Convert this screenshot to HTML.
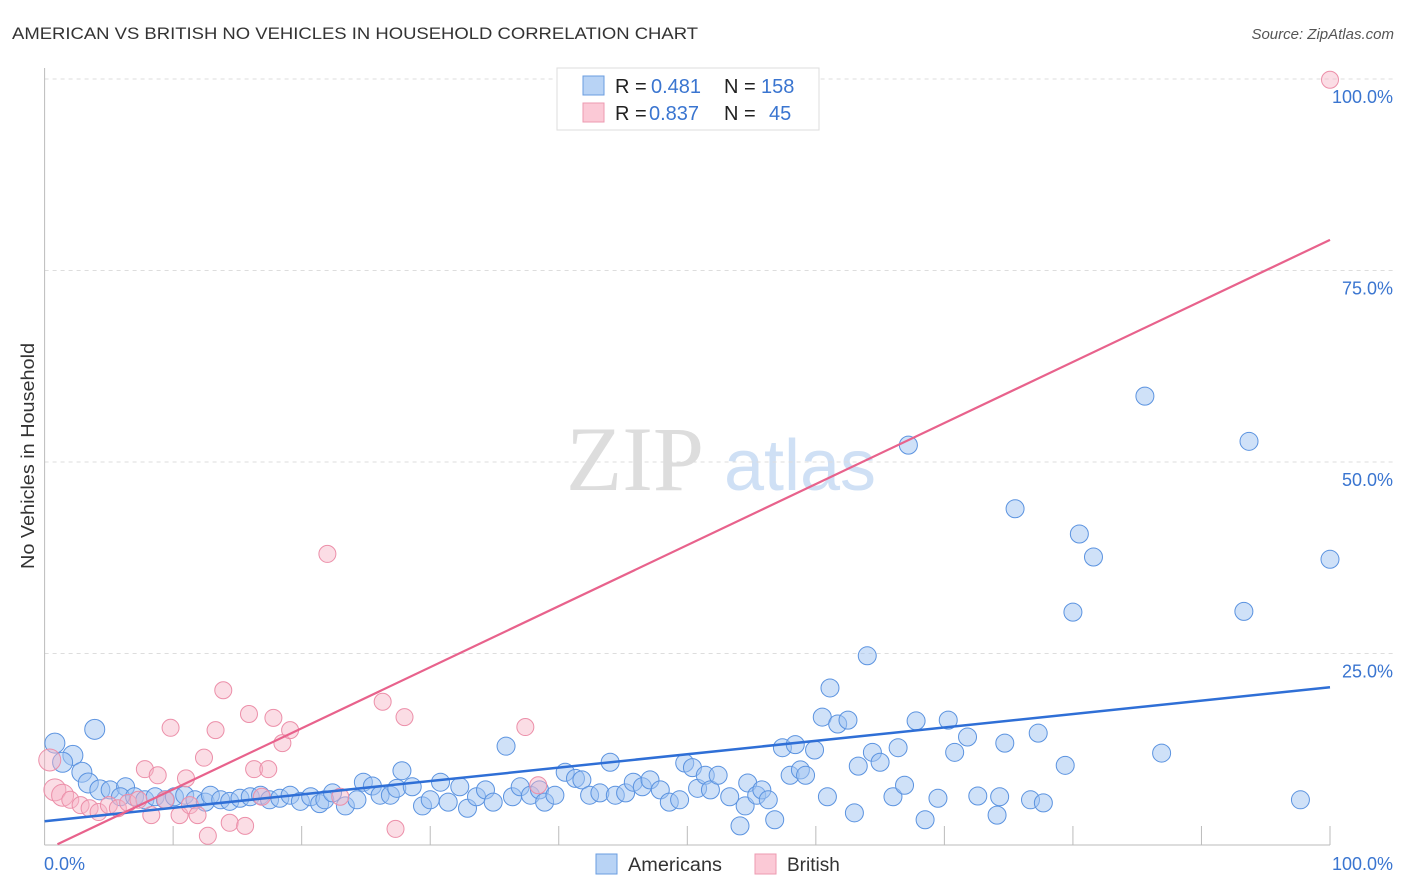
<!DOCTYPE html>
<html><head><meta charset="utf-8"><style>
body{margin:0;background:#fff;font-family:"Liberation Sans",sans-serif;}
svg{display:block}
</style></head><body>
<svg id="chart" width="1406" height="892">
<text x="12" y="39" font-size="17" fill="#333" textLength="686" lengthAdjust="spacingAndGlyphs">AMERICAN VS BRITISH NO VEHICLES IN HOUSEHOLD CORRELATION CHART</text>
<text x="1394" y="39" font-size="15" fill="#555" font-style="italic" text-anchor="end">Source: ZipAtlas.com</text>
<text x="0" y="0" transform="translate(34,456) rotate(-90)" font-size="18" fill="#333" text-anchor="middle" textLength="226" lengthAdjust="spacingAndGlyphs">No Vehicles in Household</text>
<g><text x="635" y="490" font-family="Liberation Serif,serif" font-size="92" fill="#ddd" text-anchor="middle">ZIP</text><text x="800" y="490" font-size="72" fill="#cfe0f5" text-anchor="middle">atlas</text></g>
<g id="grid"></g><g id="axes"></g><g id="pts"></g><g id="lines"></g>
<g>
<rect x="557" y="68" width="262" height="62" fill="#fff" stroke="#ddd"/>
<rect x="583" y="76" width="21" height="19" fill="#b8d3f5" stroke="#6a9de0"/>
<rect x="583" y="103" width="21" height="19" fill="#fbc9d6" stroke="#ec9ab0"/>
<text x="615" y="93" font-size="20" fill="#222">R = </text><text x="651" y="93" font-size="20" fill="#3a75d0">0.481</text>
<text x="724" y="93" font-size="20" fill="#222">N = </text><text x="761" y="93" font-size="20" fill="#3a75d0">158</text>
<text x="615" y="120" font-size="20" fill="#222">R = </text><text x="649" y="120" font-size="20" fill="#3a75d0">0.837</text>
<text x="724" y="120" font-size="20" fill="#222">N = </text><text x="769" y="120" font-size="20" fill="#3a75d0">45</text>
</g>
<g>
<rect x="596" y="854" width="21" height="20" fill="#b8d3f5" stroke="#6a9de0"/>
<text x="628" y="871" font-size="19" fill="#333" textLength="94" lengthAdjust="spacingAndGlyphs">Americans</text>
<rect x="755" y="854" width="21" height="20" fill="#fbc9d6" stroke="#ec9ab0"/>
<text x="787" y="871" font-size="19" fill="#333">British</text>
</g>
</svg>
<script>
const yTicks=[25,50,75,100];
const yTickLabels=["25.0%","50.0%","75.0%","100.0%"];
const xTicks=[10,20,30,40,50,60,70,80,90,100];
const blueX=[0.8,2.2,3.9,1.4,2.9,3.4,4.3,5.1,6.3,5.9,7.0,7.8,8.6,9.4,10.1,10.9,11.7,12.5,12.9,13.7,14.4,15.2,16.0,16.8,17.5,18.3,19.1,19.9,20.7,21.4,21.8,22.4,23.4,24.3,24.8,25.5,26.1,26.9,27.4,27.8,28.6,29.4,30.0,30.8,31.4,32.3,32.9,33.6,34.3,34.9,35.9,36.4,37.0,37.8,38.5,38.9,39.7,40.5,41.3,41.8,42.4,43.2,44.0,44.4,45.2,45.8,46.5,47.1,47.9,48.6,49.4,49.8,50.4,50.8,51.4,51.8,52.4,53.3,54.1,54.5,54.7,55.4,55.8,56.3,56.8,57.4,58.0,58.4,58.8,59.2,59.9,60.5,60.9,61.1,61.7,62.5,63.0,63.3,64.0,64.4,65.0,66.0,66.4,66.9,67.2,67.8,68.5,69.5,70.3,70.8,71.8,72.6,74.7,74.1,74.3,75.5,76.7,77.3,77.7,79.4,80.0,80.5,81.6,85.6,86.9,93.3,93.7,97.7,100];
const blueY=[13.3,11.7,15.1,10.8,9.5,8.1,7.2,7.2,7.6,6.3,6.3,5.9,6.3,5.9,6.3,6.5,5.9,5.6,6.5,5.9,5.7,6.1,6.3,6.5,5.9,6.1,6.5,5.7,6.3,5.4,5.9,6.8,5.1,5.9,8.2,7.7,6.5,6.5,7.4,9.7,7.6,5.1,5.9,8.2,5.6,7.6,4.8,6.3,7.2,5.6,12.9,6.3,7.6,6.5,7.2,5.6,6.5,9.5,8.7,8.5,6.5,6.8,10.8,6.5,6.8,8.2,7.6,8.5,7.2,5.6,5.9,10.7,10.1,7.4,9.1,7.2,9.1,6.3,2.5,5.1,8.1,6.5,7.2,5.9,3.3,12.7,9.1,13.1,9.8,9.1,12.4,16.7,6.3,20.5,15.8,16.3,4.2,10.3,24.7,12.1,10.8,6.3,12.7,7.8,52.2,16.2,3.3,6.1,16.3,12.1,14.1,6.4,13.3,3.9,6.3,43.9,5.9,14.6,5.5,10.4,30.4,40.6,37.6,58.6,12.0,30.5,52.7,5.9,37.3];
const pinkX=[0.4,0.8,1.4,2.0,2.8,3.5,4.2,5.0,5.7,6.5,7.3,7.8,8.3,8.8,9.4,9.8,10.5,11.0,11.3,11.9,12.4,12.7,13.3,13.9,14.4,15.6,15.9,16.3,16.9,17.4,17.8,18.5,19.1,22.0,23.0,26.3,27.3,28.0,37.4,38.4,100];
const pinkY=[11.1,7.2,6.5,5.9,5.2,4.8,4.3,5.2,4.8,5.5,5.9,9.9,3.9,9.1,5.9,15.3,3.9,8.7,5.2,3.9,11.4,1.2,15.0,20.2,2.9,2.5,17.1,9.9,6.3,9.9,16.6,13.3,15.0,38.0,6.3,18.7,2.1,16.7,15.4,7.8,99.9];
const blueFit=[3.1,20.6];
const pinkFit=[-0.7,79.0];
const X0=44.6,X1=1330,Y0=845,Y1=79;
const sx=v=>X0+(X1-X0)*v/100, sy=v=>Y0-(Y0-Y1)*v/100;
const NS="http://www.w3.org/2000/svg";
function mk(t,a,p){const e=document.createElementNS(NS,t);for(const k in a)e.setAttribute(k,a[k]);p.appendChild(e);return e;}
const grid=document.getElementById('grid'),axes=document.getElementById('axes'),pts=document.getElementById('pts'),lines=document.getElementById('lines');
yTicks.forEach((v,i)=>{
 const l=mk('line',{x1:X0,x2:1395,y1:sy(v),y2:sy(v),stroke:'#ddd','stroke-dasharray':'4,4'},grid);
 
 
 const t=mk('text',{x:1393,y:sy(v)+24,'font-size':18,fill:'#3a75d0','text-anchor':'end'},grid);t.textContent=yTickLabels[i];
 
 
});
const ax=mk('line',{x1:X0,x2:X0,y1:68,y2:Y0,stroke:'#bbb'},axes);


const bx=mk('line',{x1:X0,x2:X1,y1:Y0,y2:Y0,stroke:'#bbb'},axes);


xTicks.forEach(v=>{const t=mk('line',{x1:sx(v),x2:sx(v),y1:826,y2:Y0,stroke:'#bbb'},axes);
 
 });
const l0=mk('text',{x:44,y:870,'font-size':18,fill:'#3a75d0'},axes);l0.textContent='0.0%';


const l1=mk('text',{x:1393,y:870,'font-size':18,fill:'#3a75d0','text-anchor':'end'},axes);l1.textContent='100.0%';


blueX.forEach((x,i)=>{const r=x<5?10:9;const c=mk('circle',{cx:sx(x),cy:sy(blueY[i]),r:r,fill:'rgba(160,196,242,0.5)',stroke:'#5b93e0','stroke-width':1},pts);
 
 });
pinkX.forEach((x,i)=>{const r=x<2?11:8.5;const c=mk('circle',{cx:sx(x),cy:sy(pinkY[i]),r:r,fill:'rgba(247,180,198,0.45)',stroke:'#ec8fa9','stroke-width':1},pts);
 
 });
const bl=mk('line',{x1:sx(0),y1:sy(blueFit[0]),x2:sx(100),y2:sy(blueFit[1]),stroke:'#2f6fd6','stroke-width':2.5},lines);


const pl=mk('line',{x1:sx(1),y1:sy(pinkFit[0]+(pinkFit[1]-pinkFit[0])*0.01),x2:sx(100),y2:sy(pinkFit[1]),stroke:'#e8628c','stroke-width':2.2},lines);


</script>
</body></html>
